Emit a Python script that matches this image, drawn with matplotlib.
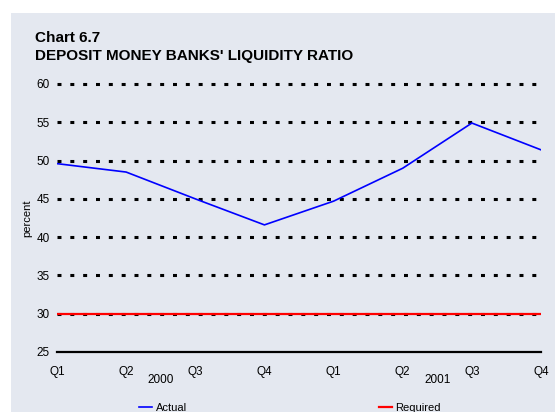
import numpy as np
import matplotlib.pyplot as plt
from matplotlib.patches import Rectangle

# datos del grafico
quarters = ['Q1', 'Q2', 'Q3', 'Q4', 'Q1', 'Q2', 'Q3', 'Q4']
years = ['2000', '2001']
actual = [49.6, 48.5, 45.0, 41.6, 44.7, 49.0, 54.9, 51.4]
required = [30, 30, 30, 30, 30, 30, 30, 30]
yticks = [25, 30, 35, 40, 45, 50, 55, 60]

plt.rcParams['font.family'] = ['Liberation Sans', 'DejaVu Sans']

fig = plt.figure(figsize=(5.55, 4.12), dpi=100)
# panel de fondo gris azulado
panel = Rectangle((11 / 555, 0), 1, 1 - 13 / 412, transform=fig.transFigure,
                  facecolor='#e4e8f0', edgecolor='none', zorder=-10)
fig.add_artist(panel)

ax = fig.add_axes([57 / 555, 1 - 352 / 412, 484 / 555, 268 / 412])
ax.patch.set_alpha(0)
ax.set_zorder(1)

x = np.arange(len(quarters))

# lineas punteadas horizontales
for v in yticks[1:]:
    ax.axhline(v, color='black', linewidth=2.2, linestyle=(0, (1.3, 2.9)), zorder=1,
               clip_on=False)
ax.axhline(25, color='black', linewidth=1.6, zorder=2, clip_on=False)

ln_act, = ax.plot(x, actual, color='#0000ff', linewidth=1.2, label='Actual', zorder=3)
ln_req, = ax.plot(x, required, color='#ff0000', linewidth=1.6, label='Required', zorder=3)

ax.set_xlim(0, 7)
ax.set_ylim(25, 60)
ax.set_yticks(yticks)
ax.set_yticklabels([str(v) for v in yticks], fontsize=8.5)
ax.set_xticks(x)
ax.set_xticklabels(quarters, fontsize=8.5)
ax.tick_params(length=0, pad=5)
ax.tick_params(axis='x', pad=10)
for s in ax.spines.values():
    s.set_visible(False)

ax.set_ylabel('percent', fontsize=8, labelpad=3)

# etiquetas de año
for i, yr in enumerate(years):
    ax.text(1.5 + 4 * i, -0.105, yr, transform=ax.get_xaxis_transform(),
            ha='center', va='center', fontsize=8.5)

# titulo
fig.text(35 / 555, 1 - 38 / 412, 'Chart 6.7', fontsize=11, fontweight='bold', va='center')
fig.text(35 / 555, 1 - 56 / 412, "DEPOSIT MONEY BANKS' LIQUIDITY RATIO", fontsize=11,
         fontweight='bold', va='center')

fig.legend(handles=[ln_act, ln_req], loc='center', bbox_to_anchor=(290 / 555, 1 - 408 / 412),
           ncol=2, frameon=False, fontsize=8, handlelength=1.2, handletextpad=0.3,
           columnspacing=17.3)

fig.savefig('out.png', dpi=100)
